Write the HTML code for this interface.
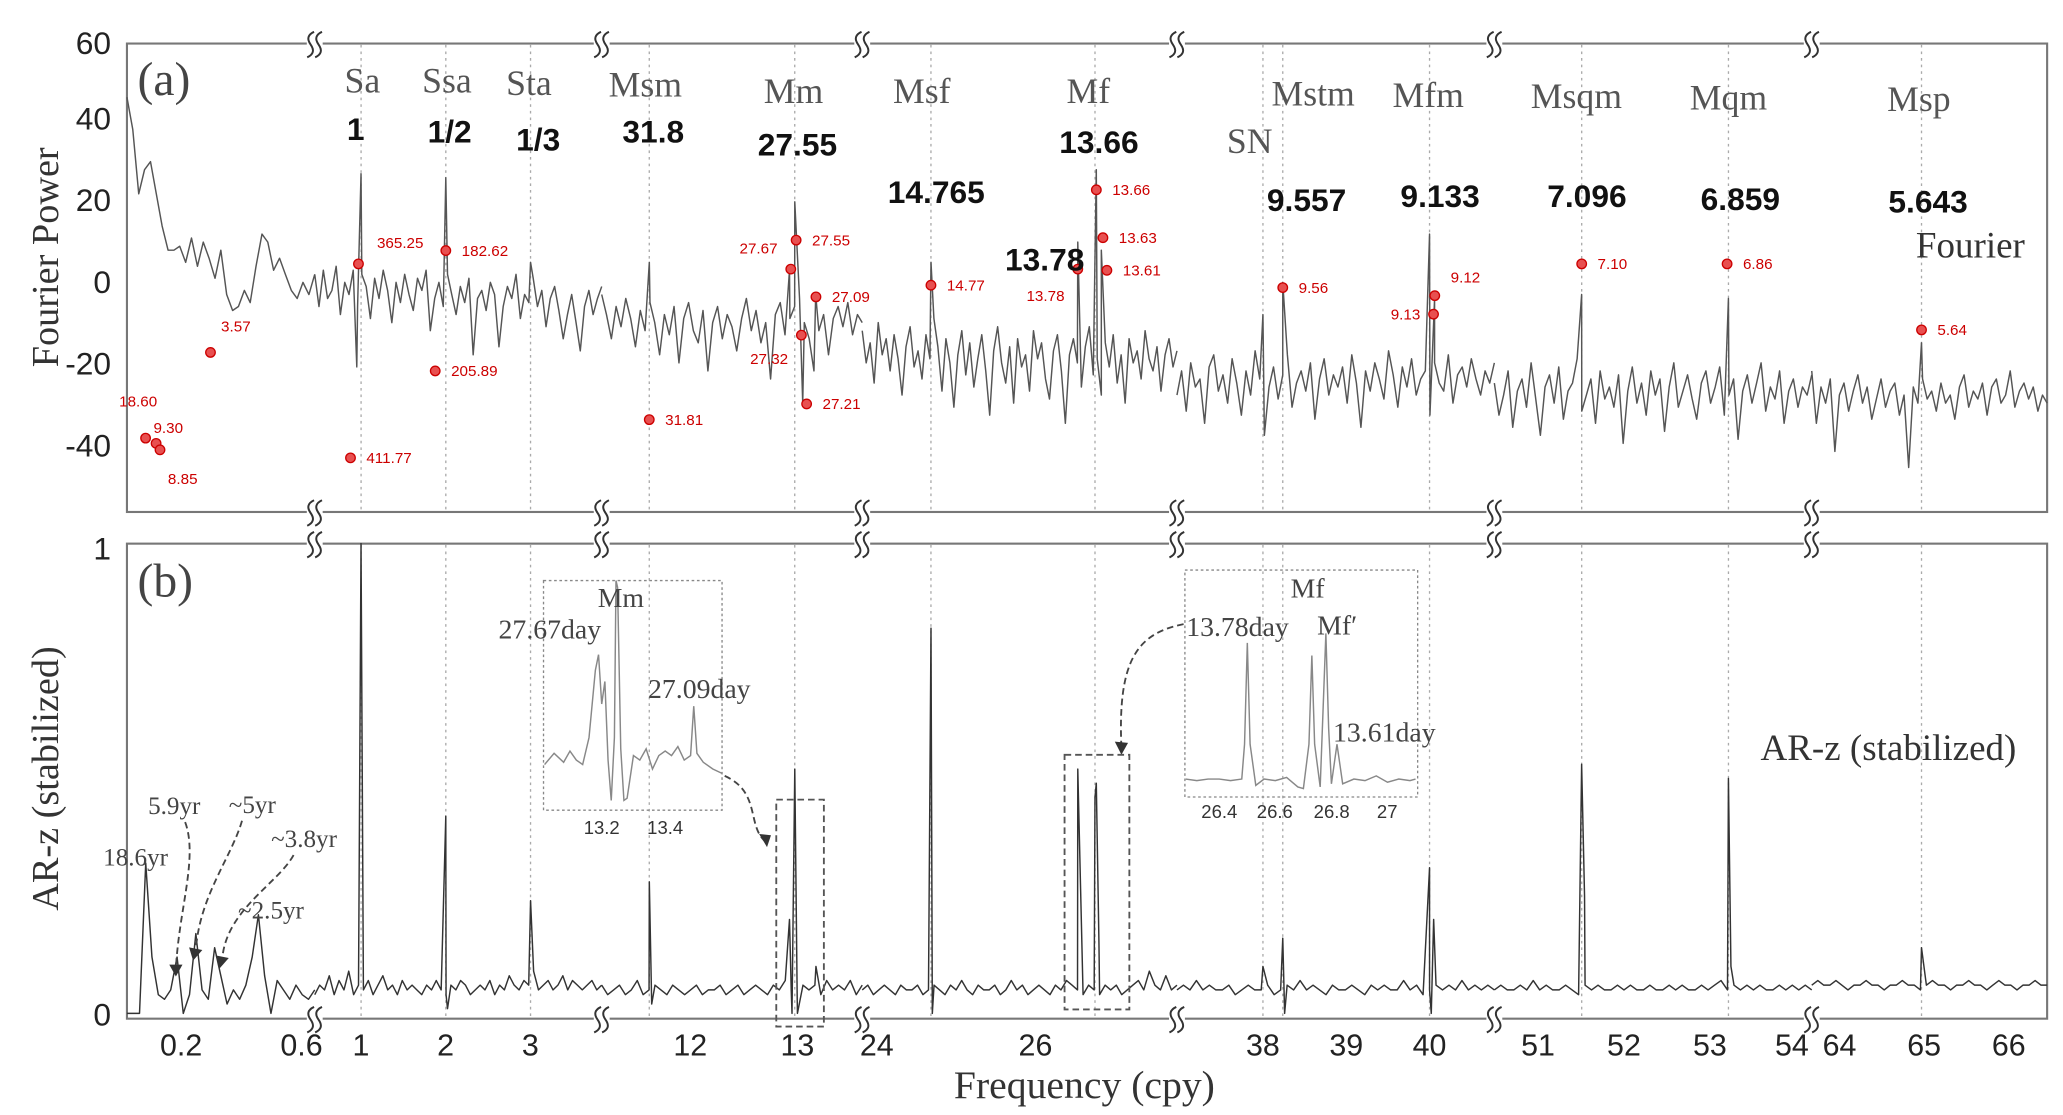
<!DOCTYPE html>
<html><head><meta charset="utf-8"><style>
html,body{margin:0;padding:0;background:#fff;}
svg{display:block;}
.ser{font-family:"Liberation Serif",serif;}
.san{font-family:"Liberation Sans",sans-serif;}
</style></head><body>
<svg id="fig" width="2063" height="1115" viewBox="0 0 1560 845" preserveAspectRatio="none" xmlns="http://www.w3.org/2000/svg">
<rect x="0" y="0" width="1560" height="845" fill="#fff"/>
<g id="frames" fill="none" stroke="#777" stroke-width="1.6">
<rect x="96" y="33" width="1452" height="355"/>
<rect x="96" y="412" width="1452" height="360"/>
</g>
<g id="grid"></g>
<g id="breaks"></g>
<g id="lineA"></g>
<g id="lineB"></g>
<g id="marks"></g>
<g id="insets"></g>

<g class="san" font-size="24" fill="#222" text-anchor="end">
<text x="84" y="41">60</text><text x="84" y="98">40</text><text x="84" y="160">20</text><text x="84" y="222">0</text><text x="84" y="284">-20</text><text x="84" y="346">-40</text>
</g>
<g class="san" font-size="24" fill="#222" text-anchor="end">
<text x="84" y="424">1</text><text x="84" y="777">0</text>
</g>
<text class="ser" font-size="29" fill="#333" text-anchor="middle" transform="translate(44,195) rotate(-90)">Fourier Power</text>
<text class="ser" font-size="29" fill="#333" text-anchor="middle" transform="translate(44,590) rotate(-90)">AR-z (stabilized)</text>
<g class="san" font-size="23" fill="#222" text-anchor="middle">
<text x="137" y="800">0.2</text><text x="228" y="800">0.6</text><text x="273" y="800">1</text><text x="337" y="800">2</text><text x="401" y="800">3</text><text x="522" y="800">12</text><text x="603" y="800">13</text><text x="663" y="800">24</text><text x="783" y="800">26</text><text x="955" y="800">38</text><text x="1018" y="800">39</text><text x="1081" y="800">40</text><text x="1163" y="800">51</text><text x="1228" y="800">52</text><text x="1293" y="800">53</text><text x="1355" y="800">54</text><text x="1391" y="800">64</text><text x="1455" y="800">65</text><text x="1519" y="800">66</text>
</g>
<text class="ser" x="820" y="832" font-size="30" fill="#333" text-anchor="middle">Frequency (cpy)</text>

<text class="ser" x="104" y="72" font-size="36" fill="#444">(a)</text>
<text class="ser" x="104" y="452" font-size="36" fill="#444">(b)</text>
<g class="ser" font-size="27" fill="#555" text-anchor="middle">
<text x="274" y="70">Sa</text><text x="338" y="70">Ssa</text><text x="400" y="72">Sta</text><text x="488" y="73">Msm</text><text x="600" y="78">Mm</text><text x="697" y="78">Msf</text><text x="823" y="78">Mf</text><text x="993" y="80">Mstm</text><text x="945" y="116">SN</text><text x="1080" y="81">Mfm</text><text x="1192" y="82">Msqm</text><text x="1307" y="83">Mqm</text><text x="1451" y="84">Msp</text>
</g>
<g class="san" font-size="24" font-weight="bold" fill="#111" text-anchor="middle">
<text x="269" y="106">1</text><text x="340" y="108">1/2</text><text x="407" y="114">1/3</text><text x="494" y="108">31.8</text><text x="603" y="118">27.55</text><text x="708" y="154">14.765</text><text x="831" y="116">13.66</text><text x="790" y="205">13.78</text><text x="988" y="160">9.557</text><text x="1089" y="157">9.133</text><text x="1200" y="157">7.096</text><text x="1316" y="159">6.859</text><text x="1458" y="161">5.643</text>
</g>
<text class="ser" x="1490" y="195" font-size="28" fill="#333" text-anchor="middle">Fourier</text>
<text class="ser" x="1428" y="576" font-size="28" fill="#333" text-anchor="middle">AR-z (stabilized)</text>

<g class="ser" font-size="19" fill="#444">
<text x="78" y="656">18.6yr</text><text x="112" y="617">5.9yr</text><text x="173" y="616">~5yr</text><text x="205" y="642">~3.8yr</text><text x="180" y="696">~2.5yr</text>
</g>
<g fill="none" stroke="#444" stroke-width="1.4" stroke-dasharray="5,3">
<path d="M140,623 C150,650 135,690 133,735"/>
<path d="M183,622 C175,650 150,680 148,722"/>
<path d="M222,648 C210,670 170,690 168,728"/>
<path d="M548,588 C575,600 565,625 578,637"/>
<path d="M895,473 C860,480 845,500 848,567"/>
</g>
<g fill="#333">
<path d="M128,731 l10,0 l-5,9z"/><path d="M143,718 l10,2 l-7,8z"/><path d="M163,724 l10,2 l-7,8z"/><path d="M574,632 l9,1 l-3,9z"/><path d="M843,562 l10,1 l-5,9z"/>
</g>
<g fill="none" stroke="#555" stroke-width="1.4" stroke-dasharray="5,3">
<rect x="587" y="606" width="36" height="172"/><rect x="805" y="572" width="49" height="193"/>
</g>
<g fill="none" stroke="#888" stroke-width="1" stroke-dasharray="2,2">
<rect x="411" y="440" width="135" height="174"/><rect x="896" y="432" width="176" height="172"/>
</g>
<g class="ser" font-size="21" fill="#444">
<text x="452" y="460">Mm</text><text x="377" y="484">27.67day</text><text x="490" y="529">27.09day</text>
<text x="976" y="453">Mf</text><text x="897" y="482">13.78day</text><text x="996" y="481">Mf′</text><text x="1008" y="562">13.61day</text>
</g>
<g class="san" font-size="14" fill="#333" text-anchor="middle">
<text x="455" y="632">13.2</text><text x="503" y="632">13.4</text>
<text x="922" y="620">26.4</text><text x="964" y="620">26.6</text><text x="1007" y="620">26.8</text><text x="1049" y="620">27</text>
</g>
</svg>
<script>
// ---------- data ----------
const segStart = [0.02, 0.453, 11.173, 23.817, 36.968, 50.484, 63.672];
const segEnd   = [0.645, 3.84, 13.605, 27.783, 40.778, 54.234, 66.453];
const constituentFreqs = [1, 2, 3, 11.617, 12.975, 24.683, 26.75, 38.0, 38.238, 40, 51.516, 53.25, 64.969];
const noiseA = [
 [46,38,22,28,30,22,14,8,8,9,5,11,4,10,6,1,8,-3,-7,-6,-2,-5,4,12,10,3,6,2,-2,-4,0,-3,2],
 [2,-6,3,-4,-2,4,-8,0,-3,3,-6,2,-1,-9,1,-4,3,-2,-10,0,-5,2,-3,-7,1,-2,3,-12,-4,0,-6,2,-3,-8,-1,-5,1,-18,-4,-2,-7,0,-3,-16,-6,-1,-4,2,-9,-3,-5,1,-6,-2,-11,-4,-1,-7,-14,-8,-3,-10,-17,-6,-2,-8,-4,-1],
 [-3,-8,-14,-6,-11,-4,-9,-16,-7,-12,-5,-10,-18,-8,-13,-6,-20,-9,-5,-12,-15,-7,-22,-10,-6,-14,-8,-11,-17,-9,-4,-12,-7,-15,-10,-24,-8,-5,-13,-9,-6,-4,-10,-14,-22,-12,-8,-18,-9,-6,-11,-5,-13,-8,-10],
 [-12,-20,-15,-25,-10,-18,-14,-22,-13,-19,-28,-16,-11,-21,-17,-24,-13,-19,-9,-16,-27,-14,-20,-31,-18,-12,-23,-15,-26,-19,-13,-22,-33,-17,-11,-20,-25,-16,-30,-14,-21,-18,-27,-12,-19,-15,-24,-29,-17,-13,-22,-35,-18,-14,-20,-26,-16,-11,-23,-19,-28,-15,-21,-13,-25,-18,-30,-14,-20,-17,-24,-12,-19,-22,-16,-27,-18,-14,-21,-17],
 [-28,-22,-32,-20,-26,-24,-35,-21,-18,-27,-23,-30,-19,-25,-33,-22,-28,-17,-24,-38,-26,-21,-29,-23,-18,-31,-25,-22,-27,-20,-34,-24,-19,-28,-23,-26,-21,-30,-18,-25,-36,-22,-27,-20,-24,-29,-17,-23,-31,-21,-26,-19,-28,-24,-22,-33,-20,-25,-27,-18,-30,-23,-21,-26,-19,-24,-28,-22,-25,-20],
 [-25,-33,-28,-22,-36,-27,-24,-31,-20,-29,-38,-26,-23,-30,-21,-34,-27,-25,-19,-32,-28,-24,-35,-22,-29,-26,-31,-23,-40,-27,-21,-30,-25,-33,-22,-28,-24,-37,-26,-20,-31,-27,-23,-29,-34,-25,-22,-30,-26,-21,-33,-28,-24,-39,-27,-23,-30,-25,-20,-32,-26,-29,-22,-35,-27,-24,-31,-26,-28,-23],
 [-22,-35,-26,-30,-24,-42,-28,-25,-32,-27,-23,-30,-26,-34,-29,-24,-31,-27,-25,-33,-28,-46,-26,-30,-24,-29,-27,-32,-25,-30,-28,-34,-26,-23,-31,-27,-29,-25,-33,-26,-24,-30,-28,-22,-31,-27,-25,-29,-26,-32,-28,-30]
];
const peaksA = [
 [],
 [[0.95,-21],[1,27],[2,26],[3,5]],
 [[11.617,5],[12.926,3],[12.975,20],[13.05,-30],[13.17,-3]],
 [[24.683,5],[26.533,10],[26.767,28],[26.83,8]],
 [[38.0,-8],[38.238,0],[40.0,12],[40.06,-4]],
 [[51.516,-3],[53.25,-4]],
 [[64.969,-15]]
];
const noiseB = [
 [0,0,0,0.32,0.12,0.04,0.03,0.05,0.12,0,0.04,0.17,0.05,0.03,0.14,0.08,0.02,0.05,0.03,0.06,0.12,0.21,0.08,0,0.07,0.05,0.03,0.06,0.04,0.03,0.05],
 [0.04,0.06,0.05,0.08,0.04,0.07,0.05,0.09,0.04,0.06,0.05,0.07,0.04,0.06,0.08,0.05,0.06,0.04,0.07,0.05,0.06,0.05,0.04,0.06,0.05,0.07,0.05,0.04,0.06,0.05,0.07,0.06,0.04,0.05,0.06,0.05,0.07,0.04,0.06,0.05,0.08,0.06,0.05,0.07,0.06,0.09,0.05,0.06,0.07,0.05,0.06,0.08,0.05,0.07,0.06,0.05,0.06,0.07,0.05,0.06],
 [0.06,0.04,0.05,0.06,0.04,0.05,0.07,0.04,0.05,0.06,0.05,0.04,0.06,0.05,0.04,0.05,0.06,0.04,0.05,0.05,0.06,0.04,0.05,0.06,0.04,0.05,0.06,0.05,0.04,0.06,0.05,0.07,0.05,0.04,0.06,0.05,0.06,0.04,0.07,0.05,0.06,0.05,0.07,0.04,0.06],
 [0.05,0.06,0.04,0.05,0.06,0.05,0.04,0.06,0.05,0.05,0.06,0.04,0.05,0.06,0.05,0.04,0.06,0.05,0.07,0.05,0.04,0.06,0.05,0.05,0.06,0.04,0.05,0.07,0.05,0.06,0.04,0.05,0.06,0.05,0.04,0.06,0.05,0.07,0.06,0.05,0.04,0.06,0.05,0.04,0.06,0.05,0.06,0.04,0.05,0.06,0.07,0.05,0.09,0.06,0.05,0.08,0.05,0.06],
 [0.05,0.06,0.05,0.07,0.05,0.06,0.05,0.05,0.06,0.04,0.05,0.06,0.05,0.05,0.06,0.04,0.05,0.06,0.05,0.07,0.05,0.06,0.05,0.04,0.06,0.05,0.05,0.06,0.05,0.04,0.06,0.05,0.06,0.05,0.05,0.07,0.05,0.06,0.04,0.05,0.06,0.05,0.06,0.05,0.07,0.05,0.06,0.05,0.06,0.05],
 [0.05,0.06,0.05,0.05,0.06,0.05,0.07,0.05,0.06,0.05,0.05,0.06,0.05,0.04,0.06,0.05,0.06,0.05,0.05,0.06,0.05,0.06,0.05,0.05,0.06,0.05,0.05,0.06,0.05,0.06,0.05,0.05,0.06,0.05,0.06,0.07,0.05,0.06,0.05,0.06,0.05,0.06,0.05,0.05,0.06,0.05,0.06,0.05,0.06,0.05],
 [0.06,0.07,0.06,0.06,0.07,0.06,0.05,0.06,0.06,0.07,0.06,0.06,0.05,0.06,0.06,0.07,0.06,0.06,0.05,0.06,0.07,0.06,0.06,0.05,0.06,0.06,0.07,0.06,0.06,0.05,0.06,0.07,0.06,0.06,0.05,0.06,0.06,0.07,0.06,0.06]
];
const peaksB = [
 [],
 [[1,1.0],[2,0.42],[2.02,0.01],[3,0.24]],
 [[11.617,0.28],[11.64,0.02],[12.926,0.2],[12.95,0.0],[12.975,0.52],[13.0,0.0],[13.173,0.1]],
 [[24.683,0.82],[24.7,0.0],[26.533,0.52],[26.75,0.46],[26.767,0.49],[26.8,0.15]],
 [[38.0,0.1],[38.238,0.16],[38.26,0.0],[40,0.31],[40.02,0.0],[40.05,0.2]],
 [[51.516,0.53],[51.55,0.25],[53.25,0.5],[53.28,0.1]],
 [[64.969,0.14]]
];
const markerSeg   = [0,0,0,0,1,1,1,1,2,2,2,2,2,2,3,3,3,3,3,4,4,4,5,5,6];
const markerFreq  = [0.082,0.117,0.130,0.298,0.969,0.875,2.0,1.875,11.617,12.938,12.988,13.173,13.037,13.086,24.683,26.533,26.767,26.85,26.9,38.238,40.063,40.048,51.516,53.234,64.969];
const markerPower = [-38.7,-40,-41.6,-17.4,4.6,-43.6,7.9,-22,-34.1,3.3,10.5,-3.6,-13.1,-30.2,-0.7,3.3,23,11.1,3,-1.3,-3.3,-7.9,4.6,4.6,-11.8];
const markerLabel = ["18.60","9.30","8.85","3.57","365.25","411.77","182.62","205.89","31.81","27.67","27.55","27.09","27.32","27.21","14.77","13.78","13.66","13.63","13.61","9.56","9.12","9.13","7.10","6.86","5.64"];
const insetMmF = [13.02,13.05,13.08,13.1,13.12,13.14,13.16,13.18,13.19,13.2,13.21,13.22,13.23,13.24,13.245,13.25,13.26,13.27,13.28,13.3,13.32,13.34,13.36,13.38,13.4,13.42,13.44,13.46,13.48,13.49,13.5,13.52,13.55,13.58];
const insetMmV = [0.18,0.23,0.19,0.24,0.2,0.18,0.3,0.6,0.67,0.45,0.55,0.2,0.02,0.3,1.0,0.97,0.25,0.02,0.03,0.22,0.2,0.25,0.16,0.22,0.24,0.22,0.26,0.2,0.22,0.44,0.23,0.19,0.16,0.14];
const insetMfF = [26.28,26.32,26.36,26.4,26.44,26.48,26.49,26.5,26.51,26.53,26.56,26.6,26.64,26.68,26.7,26.72,26.73,26.74,26.76,26.77,26.78,26.79,26.8,26.82,26.84,26.88,26.92,26.96,27.0,27.04,27.08,27.1];
const insetMfV = [0.08,0.07,0.08,0.08,0.07,0.08,0.3,0.94,0.3,0.04,0.08,0.07,0.09,0.03,0.02,0.3,0.86,0.3,0.03,0.5,1.0,0.4,0.05,0.3,0.05,0.08,0.07,0.1,0.06,0.08,0.07,0.08];

// ---------- layout ----------
const segPx0 = [96,238,455,652,890,1130,1370];
const segPx1 = [238,455,652,890,1130,1370,1548];
const NS = "http://www.w3.org/2000/svg";
function segOf(f){ for(let i=0;i<segStart.length;i++){ if(f>=segStart[i]-1e-9 && f<=segEnd[i]+1e-9) return i; } return -1; }
function xOf(i,f){ return segPx0[i] + (f-segStart[i])/(segEnd[i]-segStart[i])*(segPx1[i]-segPx0[i]); }
function yA(v){ return 214 - v*3.05; }
function yB(v){ return 768 - v*356; }
function mk(tag, attrs, parent){ const e=document.createElementNS(NS,tag); for(const k in attrs) e.setAttribute(k,attrs[k]); parent.appendChild(e); return e; }

// gridlines
const grid=document.getElementById('grid');
constituentFreqs.forEach(f=>{
  const i=segOf(f); if(i<0) return; const x=xOf(i,f);
  const l1=mk('line',{x1:x,x2:x,y1:34,y2:387,stroke:'#aaa','stroke-width':1,'stroke-dasharray':'2,3'},grid);
  
  
  const l2=mk('line',{x1:x,x2:x,y1:413,y2:771,stroke:'#aaa','stroke-width':1,'stroke-dasharray':'2,3'},grid);
  
  
});

// breaks
const br=document.getElementById('breaks');
[238,455,652,890,1130,1370].forEach(x=>{
  [33,388,412,772].forEach(y=>{
    const g=mk('g',{},br);
    
    
    mk('rect',{x:x-6,y:y-10,width:12,height:20,fill:'#fff'},g);
    [-3,3].forEach(dx=>{
      mk('path',{d:`M${x+dx+3},${y-10} q-6,5 0,10 q6,5 0,10`.replace(/q0/,'q0'),fill:'none',stroke:'#333','stroke-width':1.5,transform:`translate(${-3},0) rotate(15 ${x+dx} ${y})`},g);
    });
  });
});

// series
function drawSeries(noise, peaks, yf, gid, color, name){
  const g=document.getElementById(gid);
  for(let i=0;i<noise.length;i++){
    const arr=noise[i]; const n=arr.length; const pts=[];
    for(let k=0;k<n;k++){ pts.push([segStart[i]+(segEnd[i]-segStart[i])*k/(n-1), arr[k]]); }
    peaks[i].forEach(p=>pts.push([p[0],p[1]]));
    pts.sort((a,b)=>a[0]-b[0]);
    const d=pts.map((p,k)=>(k?'L':'M')+xOf(i,p[0]).toFixed(1)+','+yf(p[1]).toFixed(1)).join(' ');
    const path=mk('path',{d:d,fill:'none',stroke:color,'stroke-width':1.1,'stroke-linejoin':'round'},g);
    
    
  }
}
drawSeries(noiseA,peaksA,yA,'lineA','#555','fourier-line');
drawSeries(noiseB,peaksB,yB,'lineB','#333','arz-line');

// markers
const mg=document.getElementById('marks');
markerFreq.forEach((f,k)=>{
  const i=markerSeg[k]; const x=xOf(i,f), y=yA(markerPower[k]);
  const c=mk('circle',{cx:x,cy:y,r:3.6,fill:'#e85050',stroke:'#c00','stroke-width':1},mg);
  
  
  const left = ["27.67","27.32","13.78","9.13"].includes(markerLabel[k]);
  const dy = {"18.60":-28,"9.30":-12,"8.85":22,"3.57":-20,"365.25":-16,"27.67":-16,"27.32":18,"13.78":20,"9.12":-14}[markerLabel[k]]||0;
  const dx = {"18.60":-20,"9.30":-2,"8.85":6,"3.57":8,"365.25":14}[markerLabel[k]];
  const t=mk('text',{x:x+(dx!==undefined?dx:(left?-10:12)),y:y+dy+4,'font-size':11.5,fill:'#c00','font-family':'"Liberation Sans",sans-serif','text-anchor':left?'end':'start'},mg);
  t.textContent=markerLabel[k];
  
  
});

// insets
const ig=document.getElementById('insets');
const mmD=insetMmF.map((f,k)=>(k?'L':'M')+(455+(f-13.2)*240).toFixed(1)+','+(610-insetMmV[k]*170).toFixed(1)).join(' ');
const p1=mk('path',{d:mmD,fill:'none',stroke:'#888','stroke-width':1.1},ig);


const mfD=insetMfF.map((f,k)=>(k?'L':'M')+(922+(f-26.4)*212).toFixed(1)+','+(600-insetMfV[k]*120).toFixed(1)).join(' ');
const p2=mk('path',{d:mfD,fill:'none',stroke:'#888','stroke-width':1.1},ig);


</script>
</body></html>
